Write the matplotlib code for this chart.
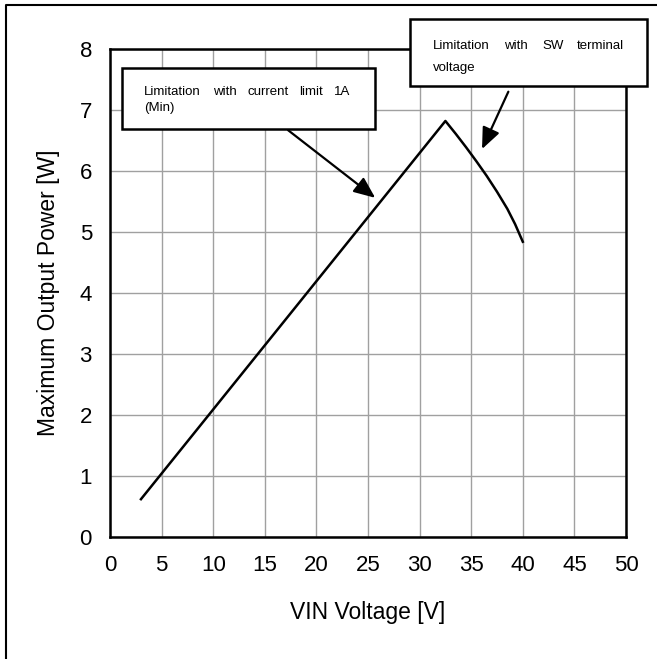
import matplotlib
matplotlib.use("Agg")
import matplotlib.pyplot as plt
from matplotlib.patches import Rectangle
from matplotlib.lines import Line2D

plt.rcParams['font.family'] = ['Liberation Sans', 'DejaVu Sans']

# data
vin_rise = [3.0, 32.5]
pout_rise = [0.62, 6.82]
vin_fall = [32.5, 33.5, 34.5, 35.5, 36.5, 37.5, 38.5, 39.25, 40.0]
pout_fall = [6.82, 6.61, 6.39, 6.16, 5.92, 5.66, 5.38, 5.13, 4.84]

x_ticks = [0, 5, 10, 15, 20, 25, 30, 35, 40, 45, 50]
y_ticks = [0, 1, 2, 3, 4, 5, 6, 7, 8]

W, H = 657, 659


def fx(px):
    return px / W


def fy(py):
    return 1 - py / H


fig = plt.figure(figsize=(W / 100, H / 100), dpi=100)
ax = fig.add_axes([fx(110), fy(537), (626 - 110) / W, (537 - 49) / H])

vin = vin_rise + vin_fall[1:]
pout = pout_rise + pout_fall[1:]
ax.plot(vin, pout, color='black', lw=1.8, solid_joinstyle='round', zorder=3)

ax.set_xlim(0, 50)
ax.set_ylim(0, 8)
ax.set_xticks(x_ticks)
ax.set_yticks(y_ticks)
ax.grid(True, color='#a0a0a0', lw=1.0)
ax.tick_params(length=0, labelsize=16, pad=13)
for s in ax.spines.values():
    s.set_linewidth(1.8)
ax.set_xlabel('VIN Voltage [V]', fontsize=16.5, labelpad=18)
ax.set_ylabel('Maximum Output Power [W]', fontsize=16.5, labelpad=14)

# arrows
arrow = dict(arrowstyle='-|>,head_length=1.3,head_width=0.55', color='black', lw=1.6,
             shrinkA=0, shrinkB=0)
ax.annotate('', xy=(25.7, 5.56), xytext=(17.25, 6.67), arrowprops=arrow,
            annotation_clip=False)
ax.annotate('', xy=(36.05, 6.36), xytext=(38.6, 7.30), arrowprops=arrow,
            annotation_clip=False)

# callout boxes
for (x0, y0, x1, y1) in [(122, 68, 375, 129), (410, 19, 647, 86)]:
    fig.add_artist(Rectangle((fx(x0), fy(y1)), (x1 - x0) / W, (y1 - y0) / H,
                             transform=fig.transFigure, facecolor='white',
                             edgecolor='black', lw=1.8, zorder=5))

words = [
    ('Limitation', 144, 95), ('with', 213, 95), ('current', 248, 95),
    ('limit', 299, 95), ('1A', 334, 95), ('(Min)', 144, 111),
    ('Limitation', 433, 49), ('with', 504, 49), ('SW', 542, 49),
    ('terminal', 577, 49), ('voltage', 433, 71),
]
for w, px, py in words:
    fig.text(fx(px), fy(py), w, fontsize=9.5, ha='left', va='baseline', zorder=6)

# outer frame (left and top)
fig.add_artist(Line2D([fx(6), fx(6), fx(657)], [fy(659), fy(5), fy(5)],
                      transform=fig.transFigure, color='black', lw=1.5))

fig.savefig('out.png', dpi=100)
